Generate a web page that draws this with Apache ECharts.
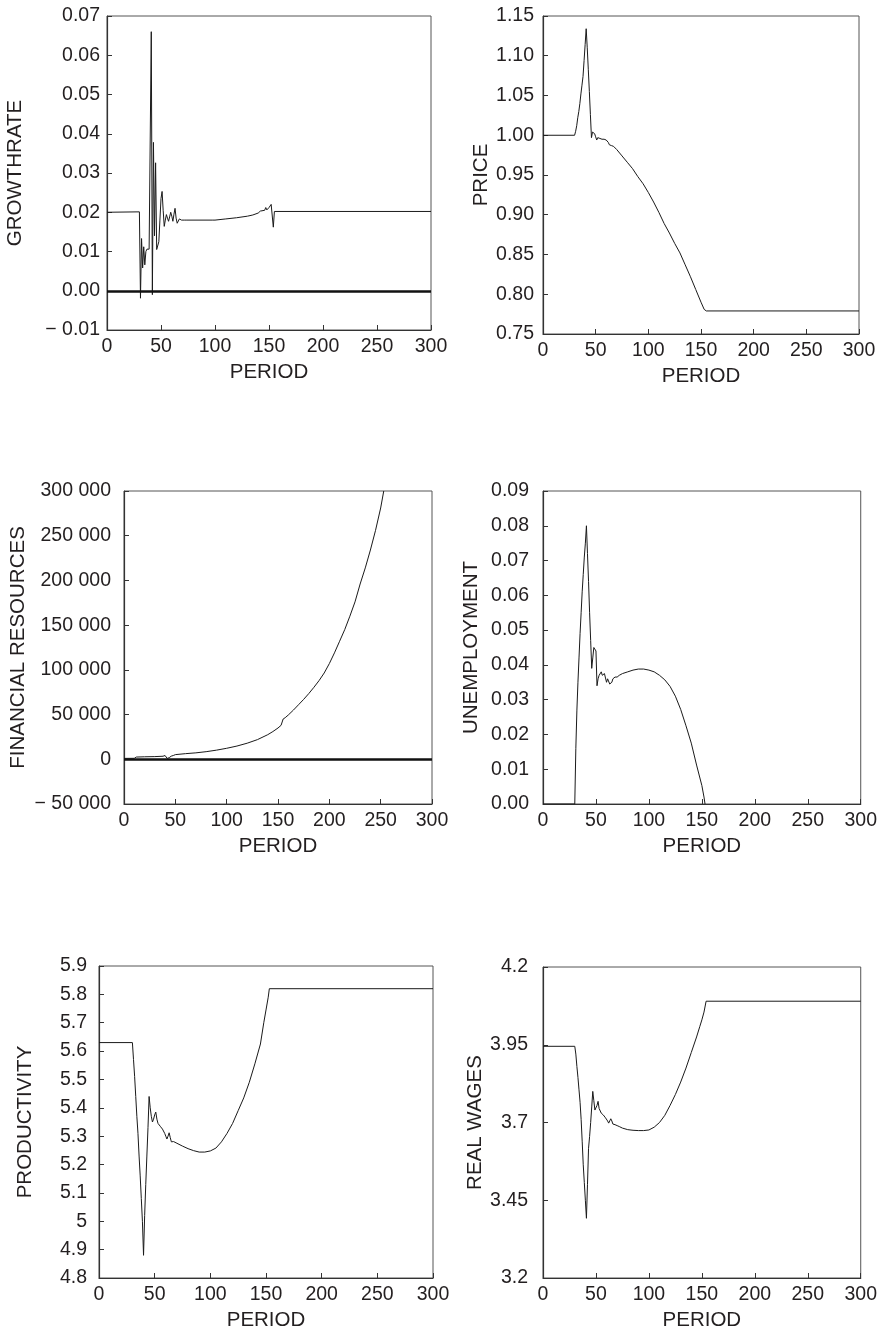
<!DOCTYPE html>
<html><head><meta charset="utf-8">
<script src="https://cdn.jsdelivr.net/npm/echarts@6/dist/echarts.min.js"></script>
<style>html,body{margin:0;padding:0;background:#fff}#c{width:880px;height:1332px}</style>
</head><body><div id="c"></div>
<script>
// ---- data: [period, value] ----
const growthRate = [[0,0.02],[30,0.0201],[31,-0.0019],[32,0.0133],[33,0.0058],[34,0.0112],[35,0.0066],[36,0.0100],[37,0.0106],[38,0.0104],[39,0.0106],[40,0.0106],[41,0.066],[42,-0.001],[43,0.0378],[44,0.014],[45,0.0326],[46,0.0105],[47,0.0108],[48,0.0125],[49,0.018],[50,0.0235],[51,0.0253],[52,0.0205],[53,0.0164],[54,0.018],[55,0.0194],[56,0.0185],[57,0.0177],[58,0.0188],[59,0.020],[60,0.019],[61,0.0177],[62,0.0195],[63,0.021],[64,0.0185],[65,0.0172],[66,0.0176],[67,0.0183],[68,0.0186],[69,0.018],[70,0.0177],[72,0.018],[73,0.0182],[74,0.018],[98,0.018],[99,0.0183],[100,0.018],[110,0.0183],[120,0.0186],[130,0.019],[135,0.0193],[140,0.0198],[142,0.0203],[143,0.0199],[146,0.0205],[147,0.0212],[148,0.0206],[150,0.0212],[152,0.022],[153,0.0215],[154,0.0162],[155,0.0202],[300,0.0202]];
const price = [[0,1.0],[30,1.0],[31,1.005],[32,1.012],[33,1.022],[34,1.03],[35,1.04],[36,1.052],[37,1.063],[38,1.074],[39,1.094],[40,1.114],[41,1.134],[42,1.11],[43,1.083],[44,1.055],[45,1.026],[46,0.997],[47,1.004],[48,1.006],[49,1.002],[50,0.998],[51,0.994],[52,0.997],[53,0.998],[54,0.996],[55,0.997],[56,0.995],[57,0.993],[58,0.995],[60,0.994],[61,0.995],[62,0.991],[63,0.988],[64,0.99],[65,0.987],[66,0.988],[67,0.986],[68,0.985],[70,0.982],[75,0.974],[80,0.966],[85,0.958],[90,0.948],[95,0.939],[100,0.928],[105,0.916],[110,0.903],[115,0.889],[120,0.877],[125,0.864],[130,0.852],[135,0.837],[140,0.822],[145,0.806],[150,0.790],[153,0.781],[155,0.779],[300,0.779]];
const financialResources = [[0,1000],[10,1100],[12,2500],[20,2800],[30,3000],[38,3400],[40,4200],[41,4000],[42,1000],[43,500],[44,1800],[46,3500],[48,4200],[49,5500],[50,5200],[60,6300],[70,7200],[80,8500],[90,10200],[100,12300],[110,14800],[120,18000],[130,22000],[140,27500],[145,31000],[150,35000],[153,38000],[154,38300],[155,45000],[157,46500],[160,49500],[165,55000],[170,61000],[175,67000],[180,73500],[185,80500],[190,88000],[195,96500],[200,107000],[205,119000],[210,132000],[215,145000],[220,160000],[225,176000],[230,196000],[235,214000],[240,234000],[245,256000],[250,281000],[253,300000]];
const unemployment = [[0,0],[30,0],[31,0.016],[32,0.027],[33,0.035],[34,0.042],[35,0.049],[36,0.055],[37,0.061],[38,0.066],[39,0.071],[40,0.075],[41,0.080],[42,0.072],[43,0.064],[44,0.055],[45,0.047],[46,0.039],[47,0.042],[48,0.045],[49,0.0445],[50,0.044],[51,0.034],[52,0.036],[53,0.037],[54,0.0375],[55,0.038],[56,0.037],[57,0.037],[58,0.0375],[59,0.038],[60,0.035],[61,0.036],[62,0.0365],[63,0.0345],[64,0.034],[65,0.035],[66,0.036],[68,0.0365],[70,0.0365],[72,0.037],[75,0.0375],[80,0.038],[85,0.0385],[90,0.0388],[95,0.0388],[100,0.0385],[105,0.038],[110,0.037],[115,0.0357],[120,0.0338],[125,0.031],[130,0.0272],[135,0.0225],[140,0.0175],[145,0.0112],[150,0.0053],[152,0.002],[153,0]];
const productivity = [[0,5.63],[30,5.63],[31,5.57],[32,5.51],[33,5.44],[34,5.37],[35,5.31],[36,5.23],[37,5.16],[38,5.08],[39,5.00],[40,4.88],[41,5.02],[42,5.13],[43,5.23],[44,5.33],[45,5.44],[46,5.40],[47,5.37],[48,5.35],[49,5.36],[50,5.375],[51,5.385],[52,5.36],[53,5.345],[54,5.34],[55,5.335],[56,5.33],[57,5.325],[58,5.32],[59,5.31],[60,5.30],[61,5.29],[62,5.30],[63,5.312],[64,5.295],[65,5.28],[67,5.281],[70,5.275],[75,5.265],[80,5.256],[85,5.249],[90,5.244],[95,5.244],[100,5.248],[105,5.258],[110,5.28],[115,5.31],[120,5.345],[125,5.39],[130,5.435],[135,5.49],[140,5.555],[145,5.625],[148,5.70],[150,5.745],[152,5.79],[153,5.82],[300,5.82]];
const realWages = [[0,3.945],[30,3.945],[31,3.92],[32,3.88],[33,3.845],[34,3.805],[35,3.765],[36,3.71],[37,3.64],[38,3.564],[39,3.507],[40,3.45],[41,3.392],[42,3.50],[43,3.617],[44,3.655],[45,3.70],[46,3.75],[47,3.80],[48,3.77],[49,3.74],[50,3.745],[51,3.755],[52,3.768],[53,3.745],[54,3.74],[55,3.73],[56,3.728],[57,3.724],[58,3.72],[59,3.715],[60,3.71],[61,3.705],[62,3.698],[63,3.705],[64,3.712],[65,3.705],[66,3.695],[67,3.69],[68,3.693],[70,3.69],[72,3.687],[75,3.682],[80,3.677],[85,3.675],[90,3.674],[95,3.674],[100,3.676],[105,3.685],[110,3.70],[115,3.723],[120,3.755],[125,3.79],[130,3.83],[135,3.875],[140,3.925],[145,3.975],[148,4.008],[150,4.03],[152,4.055],[154,4.09],[300,4.09]];

const yNames = ['GROWTHRATE','PRICE','FINANCIAL RESOURCES','UNEMPLOYMENT','PRODUCTIVITY','REAL WAGES'];
const xName = 'PERIOD';
const yMins = [-0.01, 0.75, -50000, 0, 4.8, 3.2];
const yMaxs = [0.07, 1.15, 300000, 0.09, 5.9, 4.2];
const yIntervals = [0.01, 0.05, 50000, 0.01, 0.1, 0.25];
const xMin = 0, xMax = 300, xInterval = 50;

// ---- layout ----
const grids = [
  {left:107, top:16, width:324, height:314},
  {left:543, top:16, width:316, height:318},
  {left:124, top:491, width:308, height:313},
  {left:543, top:491, width:326, height:313},
  {left:99, top:966, width:334, height:314},
  {left:543, top:967, width:327, height:314}
];
const nameGaps = [81, 51, 95, 61, 63, 57];
const labelMargins = [7, 9, 13, 14, 12, 15];
const INK = '#231f20';
const FONT = '"Liberation Sans", Arial, Helvetica, sans-serif';

const minus = '\u2212 ';
const fmts = [
  v => v < 0 ? minus + Math.abs(v).toFixed(2) : v.toFixed(2),
  v => v.toFixed(2),
  v => { const s = Math.round(Math.abs(v)).toString().replace(/\B(?=(\d{3})+(?!\d))/g, ' '); return v < 0 ? minus + s : s; },
  v => v.toFixed(2),
  v => String(Math.round(v * 10) / 10),
  v => String(Math.round(v * 100) / 100)
];
const seriesData = [growthRate, price, financialResources, unemployment, productivity, realWages];

const option = {
  animation: false,
  backgroundColor: '#fff',
  textStyle: {fontFamily: FONT},
  grid: grids.map(g => Object.assign({show: true, borderColor: '#555', borderWidth: 1, containLabel: false}, g)),
  xAxis: grids.map((g, i) => ({
    type: 'value', gridIndex: i, min: xMin, max: xMax, interval: xInterval,
    name: xName, nameLocation: 'middle', nameGap: 32,
    nameTextStyle: {fontSize: 20.5, color: INK, fontFamily: FONT},
    axisLine: {show: true, onZero: false, lineStyle: {color: '#333', width: 1.2}},
    axisTick: {show: true, inside: true, length: 5, lineStyle: {color: '#333'}},
    axisLabel: {fontSize: 19.5, color: INK, margin: 7, fontFamily: FONT},
    splitLine: {show: false}
  })),
  yAxis: grids.map((g, i) => ({
    type: 'value', gridIndex: i, min: yMins[i], max: yMaxs[i], interval: yIntervals[i],
    name: yNames[i], nameLocation: 'middle', nameGap: nameGaps[i], nameRotate: 90,
    nameTextStyle: {fontSize: 20.5, color: INK, fontFamily: FONT},
    axisLine: {show: true, onZero: false, lineStyle: {color: '#333', width: 1.2}},
    axisTick: {show: true, inside: true, length: 5, lineStyle: {color: '#333'}},
    axisLabel: {fontSize: 19.5, color: INK, margin: labelMargins[i], fontFamily: FONT, formatter: fmts[i]},
    splitLine: {show: false}
  })),
  series: seriesData.map((d, i) => {
    const s = {
      type: 'line', xAxisIndex: i, yAxisIndex: i, data: d,
      showSymbol: false, symbol: 'none', clip: true,
      lineStyle: {color: '#1a1a1a', width: 1}
    };
    if (i === 0 || i === 2) {
      s.markLine = {silent: true, symbol: 'none', label: {show: false},
        lineStyle: {color: '#111', width: 2.5, type: 'solid'},
        data: [{yAxis: 0}]};
    }
    return s;
  })
};
const chart = echarts.init(document.getElementById('c'), null, {renderer: 'canvas'});
chart.setOption(option);
</script></body></html>
